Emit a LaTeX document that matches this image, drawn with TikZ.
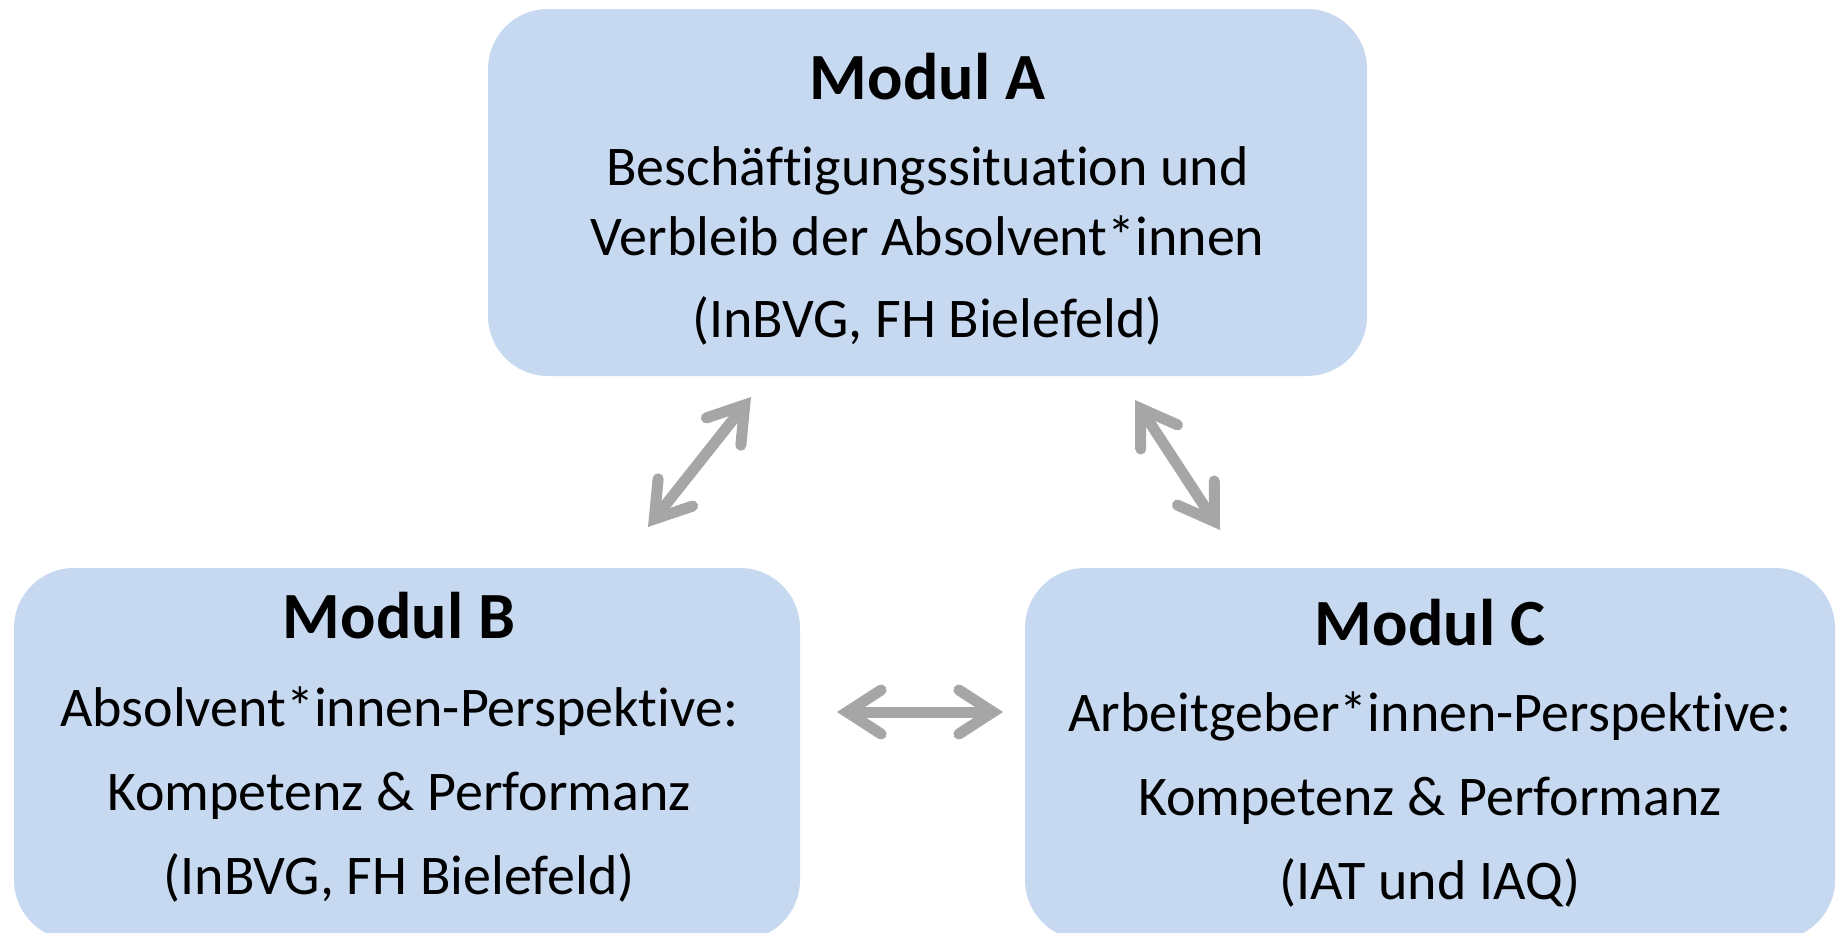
\documentclass[tikz,border=0pt]{standalone}
\usepackage{fontspec}
\setmainfont{Carlito}[Ligatures={NoCommon}]
\usepackage{tikz}
\usetikzlibrary{arrows.meta}
\usetikzlibrary{positioning}

\definecolor{modblue}{RGB}{199,217,240}
\definecolor{arrowgray}{RGB}{166,166,166}

\newcommand{\modtitle}[1]{{\fontsize{33}{35}\selectfont\bfseries #1}}

\begin{document}
\begin{tikzpicture}[x=0.5pt, y=-0.5pt,
  modbox/.style={rectangle, rounded corners=30pt, fill=modblue, draw=none, inner sep=0pt},
  modtext/.style={inner sep=0pt, align=center, font=\fontsize{28}{35}\selectfont},
  dblarrow/.style={{Straight Barb[length=17pt,width=22pt,line cap=round]}-{Straight Barb[length=17pt,width=22pt,line cap=round]},
    line width=5.5pt, draw=arrowgray}]
 \useasboundingbox (0,0) rectangle (1836,932);
 % boxes
 \node [modbox, minimum width=439.5pt, minimum height=183.5pt] (modA) at (927.5, 192.5) {};
 \node [modbox, minimum width=393pt, minimum height=186pt] (modB) at (407, 754) {};
 \node [modbox, minimum width=405pt, minimum height=186pt] (modC) at (1430, 754) {};
 % texts
 \node [modtext] (textA) at (927.5, 199)
   {\modtitle{Modul A}\\[8pt]
    Beschäftigungssituation und\\
    Verbleib der Absolvent*innen\\[6pt]
    (InBVG, FH Bielefeld)};
 \node [modtext] (textB) at (399, 747)
   {\modtitle{Modul B}\\[9pt]
    Absolvent*innen-Perspektive:\\[7pt]
    Kompetenz \& Performanz\\[7pt]
    (InBVG, FH Bielefeld)};
 \node [modtext] (textC) at (1430, 753)
   {\modtitle{Modul C}\\[8pt]
    Arbeitgeber*innen-Perspektive:\\[7pt]
    Kompetenz \& Performanz\\[7pt]
    (IAT und IAQ)};
 % free ends of the connectors
 \coordinate (ab-lo) at (648, 527);
 \coordinate (ab-hi) at (751, 397);
 \coordinate (ac-hi) at (1135, 400);
 \coordinate (ac-lo) at (1220, 530);
 \coordinate (bc-l) at (837, 712);
 \coordinate (bc-r) at (1003, 712);
 \draw [dblarrow] (ab-lo) -- (ab-hi);
 \draw [dblarrow] (ac-hi) -- (ac-lo);
 \draw [dblarrow] (bc-l) -- (bc-r);
\end{tikzpicture}
\end{document}
